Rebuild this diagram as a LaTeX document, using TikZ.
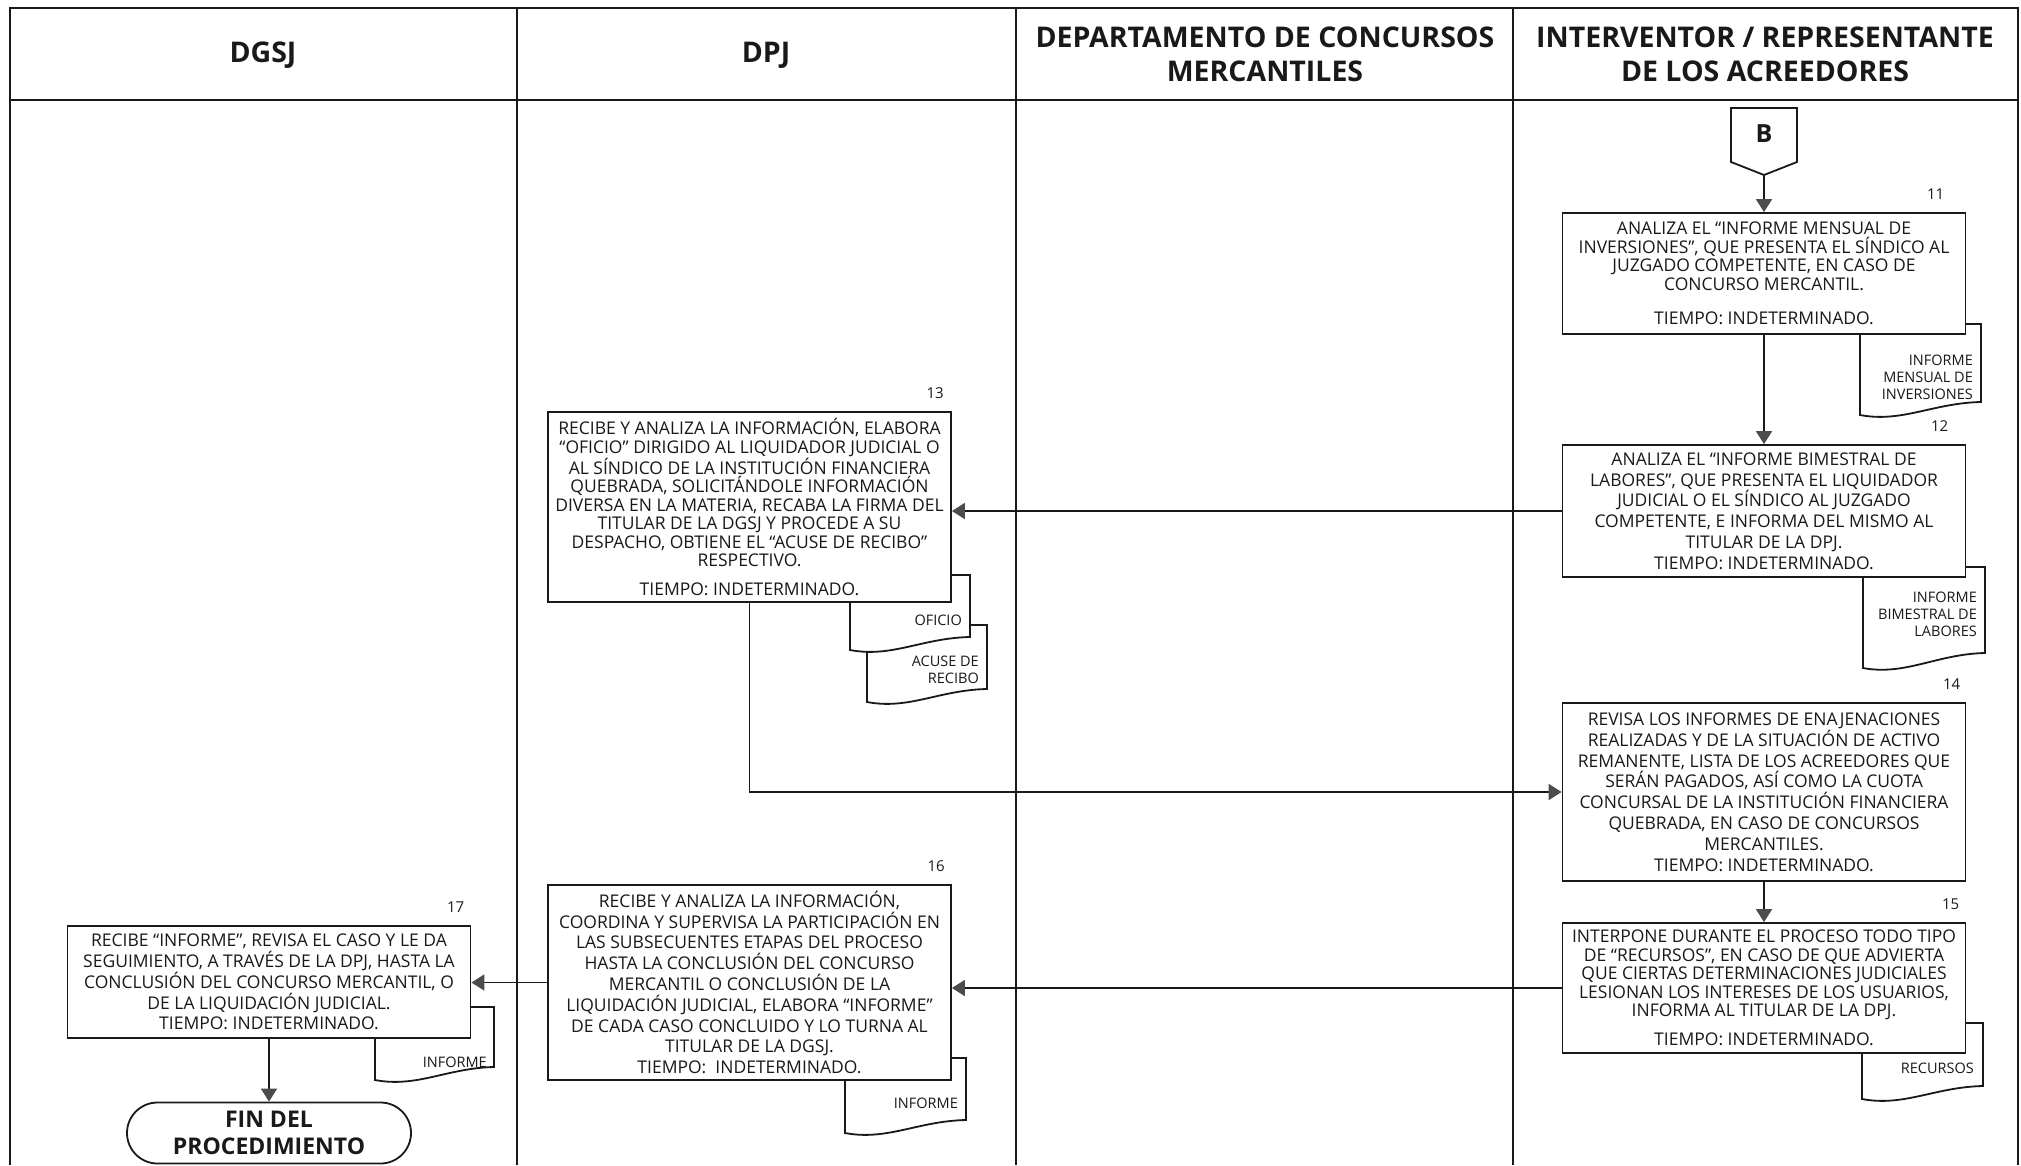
\documentclass[tikz,border=0pt]{standalone}
\usepackage{fontspec}
\setmainfont{Open Sans}
\usepackage{tikz}
\usetikzlibrary{arrows.meta}
\usetikzlibrary{positioning, shapes.misc}
\definecolor{ink}{rgb}{0.1, 0.1, 0.1}
\definecolor{tipgray}{rgb}{0.3, 0.3, 0.3}

\begin{document}
\begin{tikzpicture}[x=1pt, y=-1pt,
    frame/.style={draw=ink, line width=1.8pt},
    arr/.style={frame, -{Triangle[length=13pt, width=16pt, color=tipgray]}},
    proc/.style={frame, fill=white, text=ink, align=center, inner sep=0pt,
      minimum width=403pt, font=\fontsize{17.5}{18.5}\selectfont},
    proctall/.style={proc, font=\fontsize{17.5}{20.8}\selectfont},
    doc/.style={frame, fill=white},
    doctext/.style={anchor=east, align=right, inner sep=0pt, text=ink,
      font=\fontsize{14.5}{17}\selectfont},
    stepnum/.style={inner sep=0pt, text=ink, font=\fontsize{15}{15}\selectfont},
    lanehead/.style={align=center, text=ink, font=\bfseries\fontsize{28.5}{34}\selectfont}]

    \useasboundingbox (0,0) rectangle (2021,1165);

    % Carriles
    \draw[frame] (10,1165) -- (10,8) -- (2018,8) -- (2018,1165);
    \draw[frame] (10,100) -- (2018,100);
    \draw[frame] (517,8) -- (517,1165);
    \draw[frame] (1016,8) -- (1016,1165);
    \draw[frame] (1513,8) -- (1513,1165);

    \node[lanehead] (hdgsj) at (263,55) {DGSJ};
    \node[lanehead] (hdpj) at (766,55) {DPJ};
    \node[lanehead] (hdcm) at (1265,54) {DEPARTAMENTO DE CONCURSOS\\MERCANTILES};
    \node[lanehead] (hint) at (1765,54) {INTERVENTOR / REPRESENTANTE\\DE LOS ACREEDORES};

    % Conector B
    \draw[frame, fill=white] (1731,108) -- (1797,108) -- (1797,162) -- (1764,175) -- (1731,162) -- cycle;
    \node[text=ink, font=\bfseries\fontsize{25}{25}\selectfont] (B) at (1764,134) {B};
    \coordinate (Bend) at (1764,175);

    % Documentos
    \draw[doc] (1860,324) -- (1981,324) -- (1981,402) .. controls (1933,403) and (1902,423) .. (1860,415) -- cycle;
    \draw[doc] (1863,567) -- (1985,567) -- (1985,653) .. controls (1937,654) and (1905,676) .. (1863,668) -- cycle;
    \draw[doc] (867,625) -- (987,625) -- (987,689) .. controls (939,690) and (909,710) .. (867,702) -- cycle;
    \draw[doc] (850,575) -- (970,575) -- (970,637) .. controls (922,638) and (892,658) .. (850,650) -- cycle;
    \draw[doc] (1862,1023) -- (1983,1023) -- (1983,1086) .. controls (1935,1087) and (1904,1107) .. (1862,1099) -- cycle;
    \draw[doc] (845,1058) -- (966,1058) -- (966,1120) .. controls (918,1121) and (887,1141) .. (845,1133) -- cycle;
    \draw[doc] (375,1007) -- (494,1007) -- (494,1067) .. controls (447,1068) and (417,1088) .. (375,1080) -- cycle;

    \node[doctext] (d11) at (1973,377) {INFORME\\MENSUAL DE\\INVERSIONES};
    \node[doctext] (d12) at (1977,614) {INFORME\\BIMESTRAL DE\\LABORES};
    \node[doctext] (d13a) at (962,620) {OFICIO};
    \node[doctext] (d13b) at (979,670) {ACUSE DE\\RECIBO};
    \node[doctext] (d15) at (1974,1068) {RECURSOS};
    \node[doctext] (d16) at (958,1103) {INFORME};
    \node[doctext] (d17) at (487,1062) {INFORME};

    % Actividades
    \node[proc, minimum height=121pt] (b11) at (1764,273.5)
      {ANALIZA EL “INFORME MENSUAL DE\\INVERSIONES”, QUE PRESENTA EL SÍNDICO AL\\JUZGADO COMPETENTE, EN CASO DE\\CONCURSO MERCANTIL.\\[16pt]TIEMPO: INDETERMINADO.};
    \node[proctall, minimum height=132pt] (b12) at (1764,511)
      {ANALIZA EL “INFORME BIMESTRAL DE\\LABORES”, QUE PRESENTA EL LIQUIDADOR\\JUDICIAL O EL SÍNDICO AL JUZGADO\\COMPETENTE, E INFORMA DEL MISMO AL\\TITULAR DE LA DPJ.\\TIEMPO: INDETERMINADO.};
    \node[proc, minimum height=190pt] (b13) at (749.5,507)
      {RECIBE Y ANALIZA LA INFORMACIÓN, ELABORA\\“OFICIO” DIRIGIDO AL LIQUIDADOR JUDICIAL O\\AL SÍNDICO DE LA INSTITUCIÓN FINANCIERA\\QUEBRADA, SOLICITÁNDOLE INFORMACIÓN\\DIVERSA EN LA MATERIA, RECABA LA FIRMA DEL\\TITULAR DE LA DGSJ Y PROCEDE A SU\\DESPACHO, OBTIENE EL “ACUSE DE RECIBO”\\RESPECTIVO.\\[10pt]TIEMPO: INDETERMINADO.};
    \node[proctall, minimum height=178pt] (b14) at (1764,792)
      {REVISA LOS INFORMES DE ENAJENACIONES\\REALIZADAS Y DE LA SITUACIÓN DE ACTIVO\\REMANENTE, LISTA DE LOS ACREEDORES QUE\\SERÁN PAGADOS, ASÍ COMO LA CUOTA\\CONCURSAL DE LA INSTITUCIÓN FINANCIERA\\QUEBRADA, EN CASO DE CONCURSOS\\MERCANTILES.\\TIEMPO: INDETERMINADO.};
    \node[proc, minimum height=130pt] (b15) at (1764,988)
      {INTERPONE DURANTE EL PROCESO TODO TIPO\\DE “RECURSOS”, EN CASO DE QUE ADVIERTA\\QUE CIERTAS DETERMINACIONES JUDICIALES\\LESIONAN LOS INTERESES DE LOS USUARIOS,\\INFORMA AL TITULAR DE LA DPJ.\\[10pt]TIEMPO: INDETERMINADO.};
    \node[proctall, minimum height=195pt] (b16) at (749.5,982.5)
      {RECIBE Y ANALIZA LA INFORMACIÓN,\\COORDINA Y SUPERVISA LA PARTICIPACIÓN EN\\LAS SUBSECUENTES ETAPAS DEL PROCESO\\HASTA LA CONCLUSIÓN DEL CONCURSO\\MERCANTIL O CONCLUSIÓN DE LA\\LIQUIDACIÓN JUDICIAL, ELABORA “INFORME”\\DE CADA CASO CONCLUIDO Y LO TURNA AL\\TITULAR DE LA DGSJ.\\TIEMPO:~~INDETERMINADO.};
    \node[proctall, minimum height=112pt] (b17) at (269,982)
      {RECIBE “INFORME”, REVISA EL CASO Y LE DA\\SEGUIMIENTO, A TRAVÉS DE LA DPJ, HASTA LA\\CONCLUSIÓN DEL CONCURSO MERCANTIL, O\\DE LA LIQUIDACIÓN JUDICIAL.\\TIEMPO: INDETERMINADO.};

    % Fin
    \node[frame, rounded rectangle, minimum width=284pt, minimum height=61pt, inner sep=0pt,
      align=center, text=ink, font=\bfseries\fontsize{23}{27}\selectfont] (fin) at (269,1133) {FIN DEL\\PROCEDIMIENTO};

    % Numeros
    \node[stepnum, above left=12pt and 22pt of b11.north east] (n11) {11};
    \node[stepnum, above left=12pt and 18pt of b12.north east] (n12) {12};
    \node[stepnum, above left=12pt and 8pt of b13.north east] (n13) {13};
    \node[stepnum, above left=12pt and 6pt of b14.north east] (n14) {14};
    \node[stepnum, above left=12pt and 7pt of b15.north east] (n15) {15};
    \node[stepnum, above left=12pt and 7pt of b16.north east] (n16) {16};
    \node[stepnum, above left=12pt and 7pt of b17.north east] (n17) {17};

    % Flechas
    \draw[arr] (Bend) -- (b11);
    \draw[arr] (b11) -- (b12);
    \draw[arr] (b12.west) -- (b12.west -| b13.east);
    \draw[arr] (b13.south) |- (b14.west);
    \draw[arr] (b14) -- (b15);
    \draw[arr] (b15.west) -- (b15.west -| b16.east);
    \draw[arr] (b16.west) -- (b16.west -| b17.east);
    \draw[arr] (b17) -- (fin);
\end{tikzpicture}
\end{document}
